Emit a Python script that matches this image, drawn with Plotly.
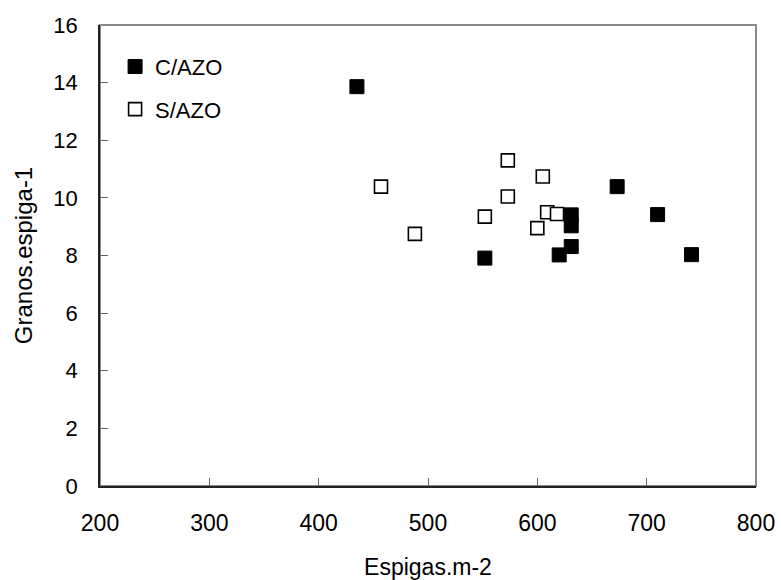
import plotly.graph_objects as go

# C/AZO (filled squares)
c_azo_x = [435, 673, 631, 631, 631, 620, 552, 710, 741]
c_azo_y = [13.86, 10.39, 9.41, 9.03, 8.31, 8.02, 7.91, 9.42, 8.03]

# S/AZO (open squares)
s_azo_x = [457, 488, 573, 605, 573, 552, 609, 618, 600]
s_azo_y = [10.39, 8.75, 11.30, 10.74, 10.05, 9.35, 9.50, 9.44, 8.95]

x_ticks = [200, 300, 400, 500, 600, 700, 800]
y_ticks = [0, 2, 4, 6, 8, 10, 12, 14, 16]

FONT = "Liberation Sans, Arial, sans-serif"

fig = go.Figure()
fig.add_trace(go.Scatter(
    x=s_azo_x, y=s_azo_y, mode="markers", name="S/AZO",
    legendgroup="s", legendrank=2,
    marker=dict(symbol="square", size=13, color="white",
                line=dict(color="black", width=1.6)),
))
fig.add_trace(go.Scatter(
    x=c_azo_x, y=c_azo_y, mode="markers", name="C/AZO",
    legendgroup="c", legendrank=1,
    marker=dict(symbol="square", size=14, color="black",
                line=dict(color="black", width=1)),
))

fig.update_layout(
    width=781, height=580,
    margin=dict(l=100, r=25, t=25, b=94),
    paper_bgcolor="white", plot_bgcolor="white",
    font=dict(family=FONT, size=23, color="black"),
    showlegend=True,
    legend=dict(x=0.023, y=0.955, xanchor="left", yanchor="top",
                bgcolor="rgba(0,0,0,0)", tracegroupgap=11,
                font=dict(family=FONT, size=22, color="black"), itemwidth=30),
    xaxis=dict(range=[200, 800], tickvals=x_ticks, ticks="inside",
               ticklen=8, tickcolor="#666", showgrid=False, zeroline=False,
               showline=True, linecolor="#222", linewidth=1.5,
               tickfont=dict(family=FONT, size=23, color="black"),
               ticklabelstandoff=16, automargin=False,
               title=dict(text="Espigas.m-2", standoff=24,
                          font=dict(family=FONT, size=23, color="black"))),
    yaxis=dict(range=[0, 16], tickvals=y_ticks, ticks="inside",
               ticklen=8, tickcolor="#666", showgrid=False, zeroline=False,
               showline=True, linecolor="#222", linewidth=1.5,
               tickfont=dict(family=FONT, size=22, color="black"),
               ticklabelstandoff=16, automargin=False,
               title=dict(text="Granos.espiga-1", standoff=14,
                          font=dict(family=FONT, size=24, color="black"))),
    shapes=[dict(type="rect", xref="paper", yref="paper", x0=0, y0=0, x1=1, y1=1,
                 line=dict(color="#888", width=2), layer="below")],
)

fig.write_html("out.html")
